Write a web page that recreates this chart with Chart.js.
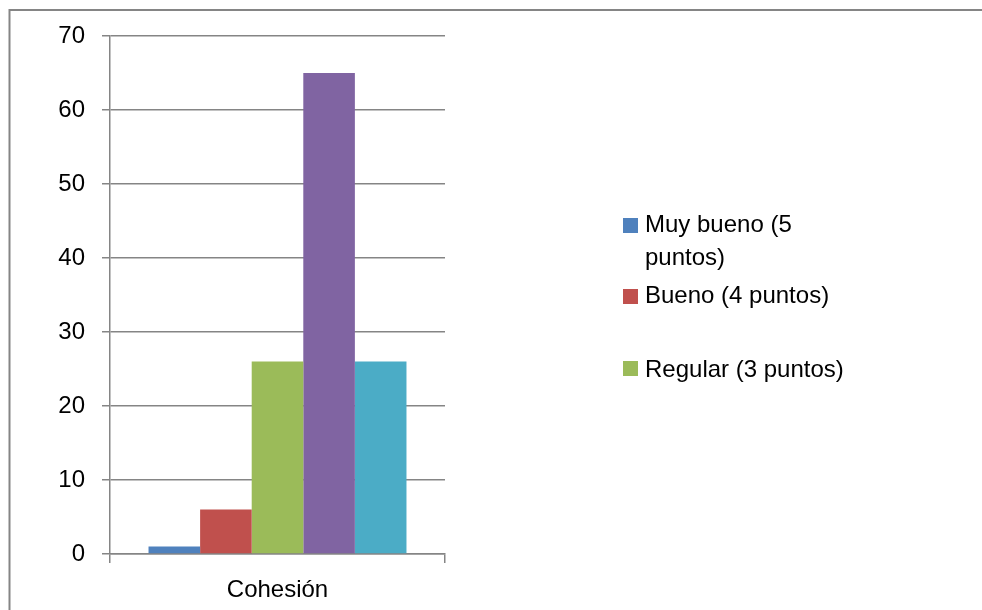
<!DOCTYPE html>
<html>
<head>
<meta charset="utf-8">
<script src="https://cdn.jsdelivr.net/npm/chart.js@4/dist/chart.umd.min.js"></script>
<style>
  html, body { margin: 0; padding: 0; background: #ffffff; }
  #wrap { position: relative; width: 982px; height: 610px; }
</style>
</head>
<body>
<div id="wrap"><canvas id="c" width="982" height="610"></canvas></div>
<script>
// Categories and series
const categories = ['Cohesión'];
const seriesNames = ['Muy bueno (5 puntos)', 'Bueno (4 puntos)', 'Regular (3 puntos)', 'Malo (2 puntos)', 'Deficiente (1 punto)'];
const muyBueno = [1];
const bueno = [6];
const regular = [26];
const malo = [65];
const deficiente = [26];
const yTicks = [0, 10, 20, 30, 40, 50, 60, 70];

// Legend text as it wraps in the side panel (only the first three entries fit)
const legendLines = [['Muy bueno (5', 'puntos)'], ['Bueno (4 puntos)'], ['Regular (3 puntos)']];

const colors = ['#4F81BD', '#C0504D', '#9BBB59', '#8064A2', '#4BACC6'];
const seriesValues = [muyBueno, bueno, regular, malo, deficiente];
const lineColor = '#858585';
const fontFamily = '"Liberation Sans", Arial, sans-serif';

// Outer frame of the chart object
const framePlugin = {
  id: 'frame',
  beforeDraw(chart) {
    const ctx = chart.ctx;
    ctx.save();
    ctx.fillStyle = '#ffffff';
    ctx.fillRect(0, 0, chart.width, chart.height);
    ctx.strokeStyle = lineColor;
    ctx.lineWidth = 2;
    ctx.beginPath();
    ctx.moveTo(9.5, chart.height);
    ctx.lineTo(9.5, 10);
    ctx.lineTo(chart.width, 10);
    ctx.stroke();
    ctx.restore();
  }
};

// Side legend with wrapped labels
const sideLegend = {
  id: 'sideLegend',
  afterDraw(chart) {
    const ctx = chart.ctx;
    const boxX = 623, textX = 645, box = 15;
    const boxTops = [218, 289, 361];
    const baselines = [[232, 265], [303], [377]];
    ctx.save();
    ctx.font = '24px ' + fontFamily;
    ctx.textBaseline = 'alphabetic';
    ctx.textAlign = 'left';
    legendLines.forEach((lines, i) => {
      ctx.fillStyle = chart.data.datasets[i].backgroundColor;
      ctx.fillRect(boxX, boxTops[i], box, box);
      ctx.fillStyle = '#000000';
      lines.forEach((t, j) => ctx.fillText(t, textX, baselines[i][j]));
    });
    ctx.restore();
  }
};

new Chart(document.getElementById('c'), {
  type: 'bar',
  data: {
    labels: categories,
    datasets: seriesNames.map((name, i) => ({
      label: name,
      data: seriesValues[i],
      backgroundColor: colors[i],
      borderWidth: 0,
      categoryPercentage: 0.77,
      barPercentage: 1
    }))
  },
  options: {
    responsive: false,
    animation: false,
    events: [],
    layout: { padding: { top: 36, right: 537, bottom: 0, left: 0 } },
    plugins: { legend: { display: false }, tooltip: { enabled: false } },
    scales: {
      x: {
        grid: { offset: true, drawOnChartArea: false, drawTicks: true, tickLength: 9, color: lineColor, lineWidth: 1.5 },
        border: { color: lineColor, width: 1.5 },
        ticks: { color: '#000000', padding: 13, font: { family: fontFamily, size: 24 } },
        afterFit(scale) { scale.height = 56; }
      },
      y: {
        min: 0,
        max: 70,
        afterBuildTicks(scale) { scale.ticks = yTicks.map(v => ({ value: v })); },
        grid: { color: lineColor, lineWidth: 1.5, tickLength: 8 },
        border: { color: lineColor, width: 1.5 },
        ticks: { color: '#000000', padding: 17, font: { family: fontFamily, size: 24 } },
        afterFit(scale) { scale.width = 110; }
      }
    }
  },
  plugins: [framePlugin, sideLegend]
});
</script>
</body>
</html>
